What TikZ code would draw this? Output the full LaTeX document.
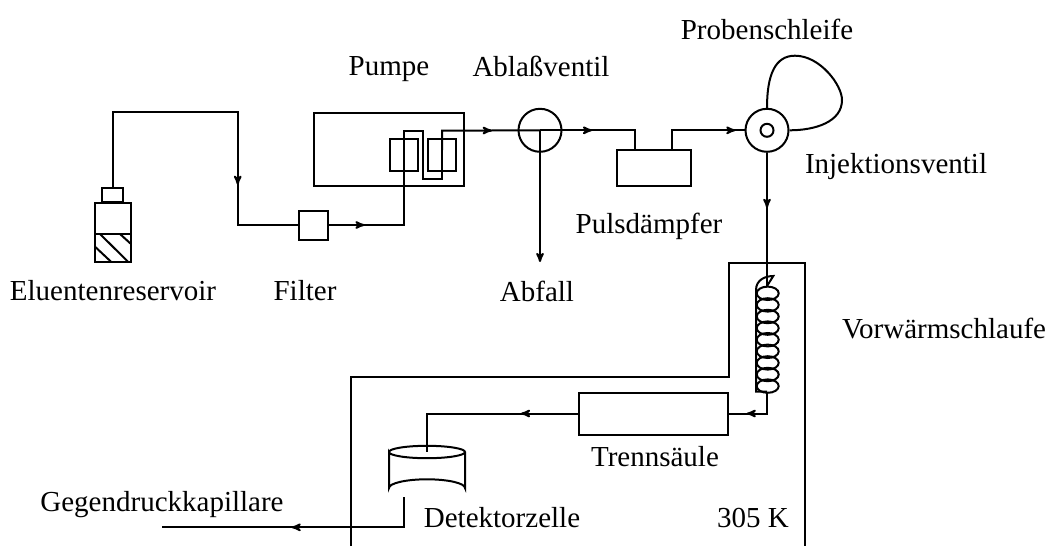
\documentclass[tikz,border=0pt]{standalone}
\usepackage{fontspec}
\setmainfont{Liberation Serif}
\usetikzlibrary{arrows,decorations.markings,shapes.geometric}

\begin{document}
\begin{tikzpicture}[x=1pt, y=-1pt, line width=2pt,
    every node/.style={inner sep=0pt, font=\fontsize{29}{31}\selectfont},
    unit/.style={draw, rectangle, minimum width=#1},
    valve/.style={draw, circle, minimum size=43pt},
    flow/.style={postaction={decorate}, decoration={markings, mark=at position #1 with {\arrow{stealth'}}}}
]

    \useasboundingbox (0,0) rectangle (1048,546);

    % tube positions
    \coordinate (bottle_top) at (113, 188);
    \coordinate (pump_in) at (404, 225);
    \coordinate (waste_end) at (540, 262);
    \coordinate (capillary_end) at (162, 527.3);


    % bottle
    \node (bottle_cap) [unit=21pt, minimum height=14pt, shift={(112.5, 194.5)}] {};
    \node (bottle_body) [unit=36pt, minimum height=59pt, shift={(113, 232.5)}] {};
    \draw (95, 233.5) -- (131, 233.5);
    \draw (95, 246.7) -- (111, 261.7);
    \draw (100, 234) -- (128, 261.7);
    \draw (120, 234) -- (131, 244);

    \node (filter) [unit=29pt, minimum height=29pt, shift={(313.5, 225)}] {};

    \node (pump) [unit=150pt, minimum height=73pt, shift={(389, 149.5)}] {};
    \node (piston_left) [unit=28pt, minimum height=32pt, shift={(404, 155)}] {};
    \node (piston_right) [unit=28pt, minimum height=32pt, shift={(442, 155)}] {};

    \node (drain_valve) [valve, shift={(540, 130.3)}] {};
    \node (damper) [unit=74pt, minimum height=36pt, shift={(653.5, 168)}] {};
    \node (inject_valve) [valve, shift={(767, 130.3)}] {};
    \node (inject_core) [draw, circle, minimum size=13pt, shift={(767, 130.3)}] {};

    \node (column) [unit=149pt, minimum height=42pt, shift={(653.5, 413.5)}] {};


    % labels
    \node (label_reservoir) [shift={(113, 291)}] {Eluentenreservoir};
    \node (label_filter) [shift={(305, 291)}] {Filter};
    \node (label_pump) [shift={(389, 69)}] {Pumpe};
    \node (label_drain) [shift={(541, 66)}] {Abla\ss ventil};
    \node (label_waste) [shift={(537, 291)}] {Abfall};
    \node (label_damper) [shift={(649, 226)}] {Pulsd\"ampfer};
    \node (label_loop) [shift={(767, 29)}] {Probenschleife};
    \node (label_inject) [shift={(896, 167)}] {Injektionsventil};
    \node (label_preheat) [shift={(944, 329)}] {Vorw\"armschlaufe};
    \node (label_column) [shift={(655, 457)}] {Trenns\"aule};
    \node (label_cell) [shift={(502, 518)}] {Detektorzelle};
    \node (label_capillary) [shift={(162, 505)}] {Gegendruckkapillare};
    \node (label_temp) [shift={(753, 518)}] {305 K};


    % oven
    \draw (351, 546) -- (351, 376.5) -- (729, 376.5) -- (729, 262.5) -- (805, 262.5) -- (805, 546);

    % detector cell
    \draw (389, 452) arc[start angle=180, end angle=540, x radius=38, y radius=6.2]
        -- (389, 488) arc[start angle=180, end angle=360, x radius=38, y radius=8.7] -- (465, 452);

    % heating coil
    \foreach \y in {293.3, 304.9, ..., 387} {
        \draw (767.7, \y) ellipse[x radius=11, y radius=6.7];
    }
    \draw (767, 286) -- (773.3, 276) .. controls (765, 276) and (756, 280) .. (756, 290) -- (756, 391.7) -- (767, 391.7);


    % tubes
    \draw[flow=274pt] (bottle_top) -- (113, 111.7) -- (237.7, 111.7) -- (237.7, 225) -- (filter);
    \draw[flow=35.5pt] (filter) -- (pump_in) -- (404, 130.7) -- (423, 130.7) -- (423, 179.3) -- (442, 179.3) -- (442, 150);
    \draw[flow=69pt] (442, 150) -- (442, 130.7) -- (drain_valve.center);
    \draw[->, >=stealth'] (drain_valve.center) -- (waste_end);
    \draw[flow=52pt] (drain_valve.center) -- (635, 130.3) -- (635, 150);
    \draw[flow=83pt] (672, 150) -- (672, 130.3) -- (inject_valve);
    \draw (inject_valve.north) .. controls (767, 75) and (775, 55.7) .. (795, 55.7)
        .. controls (820, 55.7) and (842, 85) .. (842, 100)
        .. controls (842, 122) and (815, 130.3) .. (inject_valve.east);
    \draw[flow=55pt] (inject_valve) -- (767, 286);
    \draw[flow=42pt] (767, 391.7) -- (767, 413.5) -- (column.east);
    \draw[flow=57pt] (column) -- (426.7, 413.5) -- (426.7, 451.7);
    \draw[flow=142.6pt] (404, 497) -- (404, 527.3) -- (capillary_end);


\end{tikzpicture}
\end{document}
